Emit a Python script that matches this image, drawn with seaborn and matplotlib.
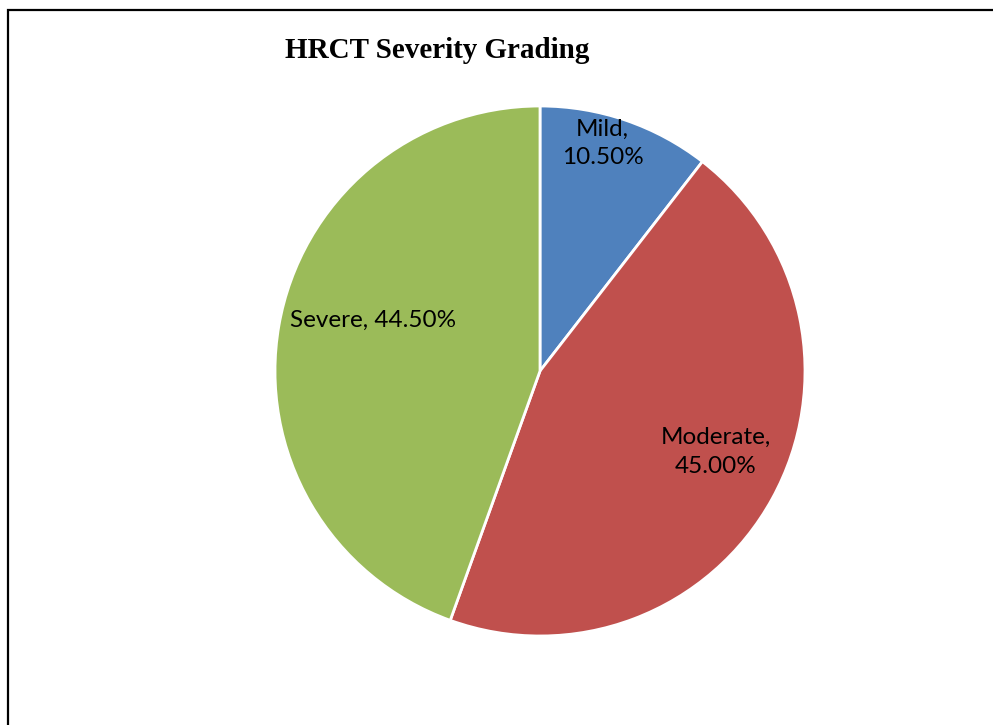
import matplotlib
matplotlib.use("Agg")
import matplotlib.pyplot as plt
from matplotlib.patches import Rectangle
import numpy as np
import seaborn as sns

# Severity grades and their share of cases (%)
categories = ["Mild", "Moderate", "Severe"]
shares = [10.50, 45.00, 44.50]
colors = ["#4F81BD", "#C0504D", "#9BBB59"]
title = "HRCT Severity Grading"

sns.set_theme(style="white")
plt.rcParams["font.family"] = ["Lato", "DejaVu Sans"]

W, H = 993, 725
fig = plt.figure(figsize=(W / 100, H / 100), dpi=100)
ax = fig.add_axes([0, 0, 1, 1])

cx, cy, r = 540, H - 371, 265
wedges, _ = ax.pie(
    shares,
    colors=colors,
    startangle=90,
    counterclock=False,
    center=(cx, cy),
    radius=r,
    frame=True,
    wedgeprops=dict(edgecolor="white", linewidth=2.0),
)
ax.set_xlim(0, W)
ax.set_ylim(0, H)
ax.set_aspect("equal")
ax.axis("off")

# Label placement: (radial fraction, angular nudge in degrees, line break)
placement = {
    "Mild": (0.89, 3.5, True),
    "Moderate": (0.73, 4.0, True),
    "Severe": (0.66, -7.0, False),
}
for w, cat, val in zip(wedges, categories, shares):
    mid = np.deg2rad((w.theta1 + w.theta2) / 2 + placement[cat][1])
    rr = r * placement[cat][0]
    sep = "\n" if placement[cat][2] else " "
    ax.text(cx + rr * np.cos(mid), cy + rr * np.sin(mid),
            f"{cat},{sep}{val:.2f}%", ha="center", va="center",
            fontsize=17.5, color="black", linespacing=1.45)

fig.text(437 / W, 1 - 50 / H, title, ha="center", va="center", color="black",
         fontsize=21, fontweight="bold", family=["Liberation Serif", "DejaVu Serif"])

# Chart area border
fig.patches.append(Rectangle((8 / W, -0.2), 1.2, 1.2 - 10 / H, transform=fig.transFigure,
                             fill=False, edgecolor="black", linewidth=1.6))

fig.savefig("out.png", dpi=100, facecolor="white")
